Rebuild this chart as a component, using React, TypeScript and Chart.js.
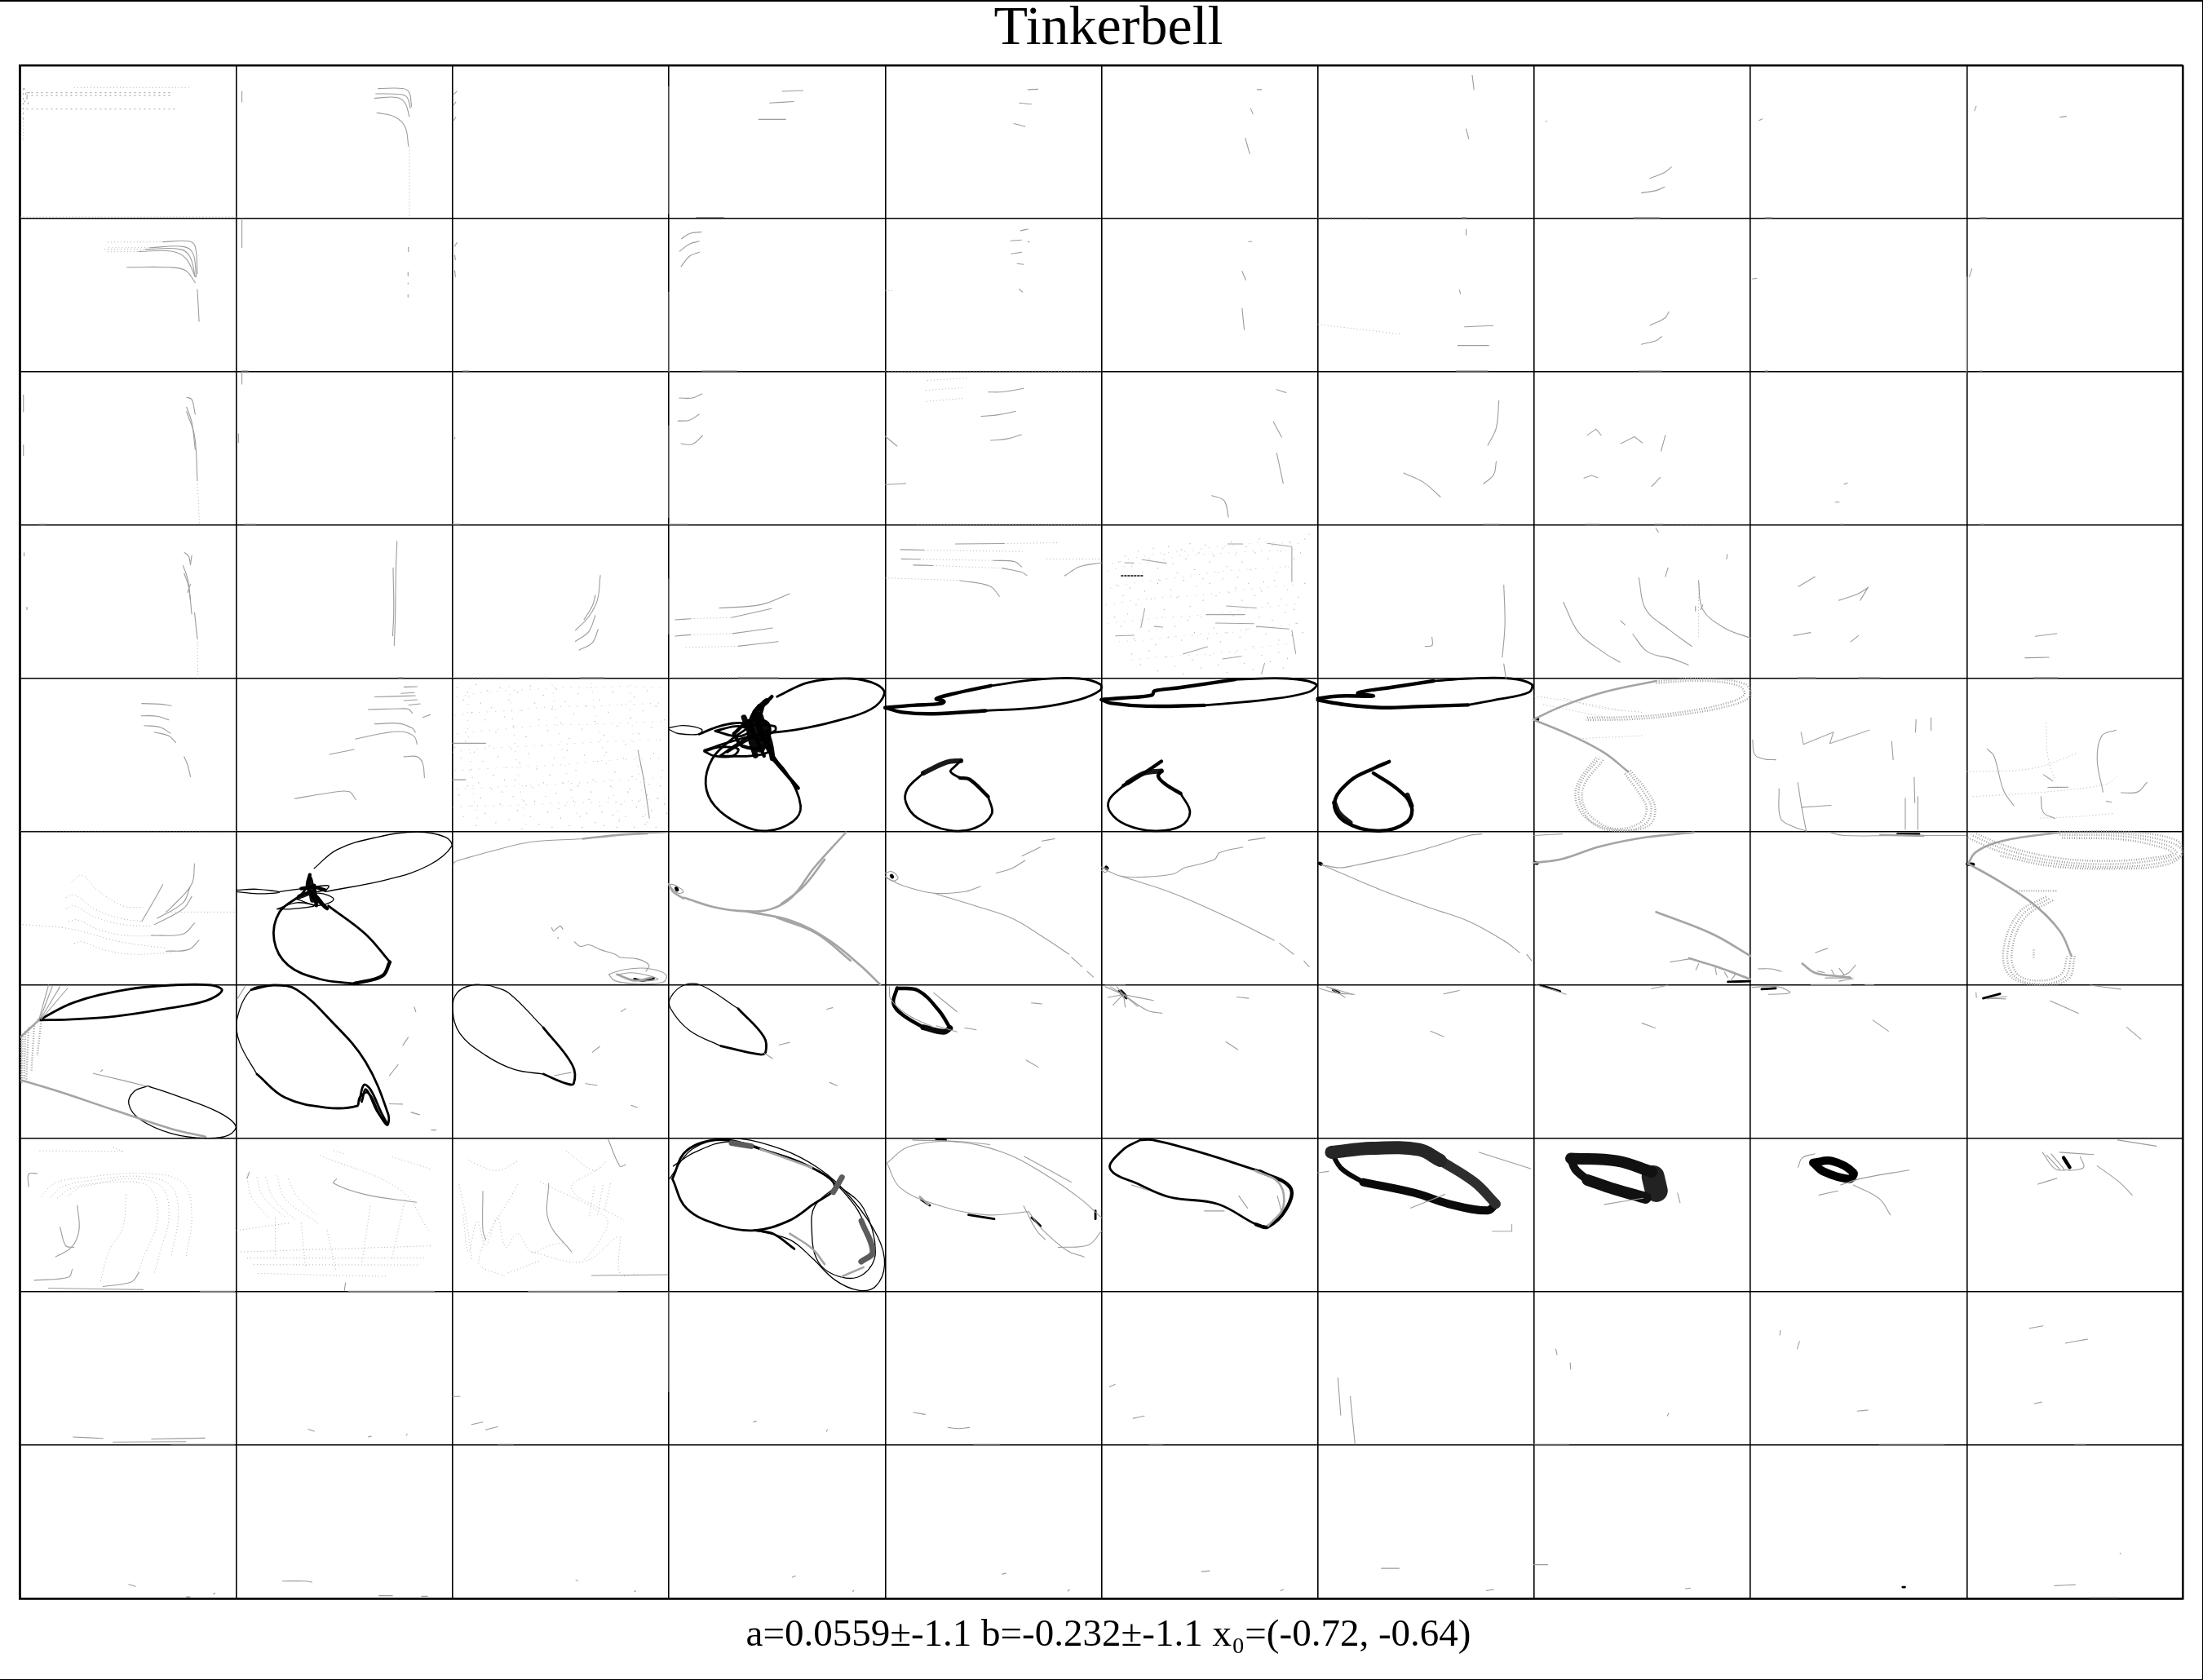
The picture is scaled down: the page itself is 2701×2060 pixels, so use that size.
import React, { useEffect, useRef } from "react";
import { Chart, registerables } from "chart.js";

Chart.register(...registerables);

type Trace = [number, number, number[]];

const titleText = "Tinkerbell";
const captionText = "a=0.0559±-1.1 b=-0.232±-1.1 x₀=(-0.72, -0.64)";
const panelRows = 10;
const panelColumns = 10;

const grayCurves: Trace[] = [
  // row 0
  [0,1,[65.6,15.2,77,15.2,80,18,81,27]],[0,1,[64.5,18.6,76,19,79,21,80.5,28]],[0,1,[64,21.5,74,21,78,24.6,80,33.5]],[0,1,[65,31,73,33.5,78,40,79.6,52.6]],[0,1,[2.6,17,2.6,24]],
  [0,2,[2,17,.5,19]],[0,2,[1.5,24,.5,26]],[0,2,[1.5,34,.5,36]],
  [0,3,[52.4,17,62,16.5]],[0,3,[46.6,24.6,57.7,23.7]],[0,3,[41.5,35.3,54,35.3]],[0,3,[0,14,0,97]],[0,3,[12.7,99.2,25.4,99.2]],
  [0,4,[66,15.9,70.6,15.6]],[0,4,[62,24.6,67.5,25.4]],[0,4,[59.5,38,64.7,40]],
  [0,5,[72,15.9,74,15.9]],[0,5,[69,28.3,70,31.7]],[0,5,[66.5,47.6,68.5,57.7]],
  [0,6,[71.4,6.6,72.2,15.9]],[0,6,[68.6,41.5,69.8,48]],[0,6,[66.7,99.4,68.6,99.4]],
  [0,7,[63.5,66.4,60.3,70,53.6,73.8]],[0,7,[60.3,79.4,56.4,81.7,49.6,83.3]],[0,7,[46,99.4,58,99.4]],[0,7,[5.5,36.5,5.9,36.6]],
  [0,8,[4,36,5.5,35]],[0,8,[6.8,99.4,10,99.4]],
  [0,9,[3.6,29.6,4.4,26.7]],[0,9,[43,33.9,46,33.3]],[0,9,[6,99.4,9,99.4]],
  // row 1
  [1,0,[66,15.2,78,14.8,81,18.3,82,36]],[1,0,[60,19,75.4,18.3,80,22.8,81.5,38]],[1,0,[58,20,74,20,78.6,25,81,38]],[1,0,[55,21.5,70,21.3,76.7,26,81,38]],[1,0,[49.5,31.8,69,31.8,76.7,34,81,41.8]],[1,0,[82,46.3,82.8,67]],
  [1,1,[2.6,0,2.6,19]],[1,1,[79.6,18.8,79.6,21.7]],[1,1,[79.4,35,79.4,37.4]],[1,1,[79.4,42,79.4,42.6]],[1,1,[79.4,49.7,79.4,51.2]],[1,1,[2.4,99.4,5.5,99.4]],
  [1,2,[2,15.7,1,18]],[1,2,[1,24,1.3,27]],[1,2,[1,34,1.3,38]],[1,2,[4.8,99.4,7.5,99.4]],
  [1,3,[15,8.7,9.5,9.8,5.8,13.2]],[1,3,[14,14.8,9.5,16.6,5,21.3]],[1,3,[14,21.9,9.5,24.6,5.6,31.3]],[1,3,[0,48,0,100]],[1,3,[15.3,99.4,31.4,99.4]],
  [1,4,[66,6.9,62.6,7.9]],[1,4,[63,14,58,14.5]],[1,4,[66,15.2,66.6,15.2]],[1,4,[63,22,58.3,23]],[1,4,[61,29.4,64,29.9]],[1,4,[62,46,63.5,48]],
  [1,5,[68,15,69.5,15]],[1,5,[65,34.4,66.7,40]],[1,5,[65,58.5,66,72.5]],
  [1,6,[68.6,6.9,68.6,10.8]],[1,6,[65.5,46.6,65.9,49]],[1,6,[67.9,70.6,81,69.8]],[1,6,[64.7,82.8,79,82.8]],[1,6,[64,99.4,78.6,99.4]],
  [1,7,[62.3,60.9,60.3,65,53.6,69.6]],[1,7,[59,77,56.4,79.6,49.6,82]],[1,7,[48.6,99.4,59,99.4]],
  [1,8,[1,39.4,3,39]],[1,8,[6.8,99.4,8,99.4]],
  [1,9,[2.4,32.8,1.2,38]],[1,9,[0,38,0,100]],[1,9,[6,99.4,7,99.4]],
  // row 2
  [2,0,[77,16.6,79.4,18,81,27.7]],[2,0,[77,23,79.4,32.7,81,50.6]],[2,0,[77,26,80.7,41.6,82,70.7]],[2,0,[1.6,15,1.6,26]],[2,0,[1.6,47.6,1.6,54.6]],[2,0,[9,99.4,12,99.4]],
  [2,1,[2.6,0,2.6,8]],[2,1,[1,40.5,1,46]],[2,1,[4,99.4,9,99.4]],
  [2,2,[1,42.6,1,43.6]],[2,2,[0,99.4,3.4,99.4]],
  [2,3,[4.8,17,10.8,17,15.3,14.3]],[2,3,[4.2,32,9.5,31.5,14,27.7]],[2,3,[5.6,46.8,10.8,47.2,15.6,41.6]],[2,3,[0,35,0,95]],[2,3,[0,99.4,9,99.4]],
  [2,4,[47.6,13.2,54.4,13,64,10.8]],[2,4,[44.4,29,52.4,28,60.3,25.7]],[2,4,[48.8,44.7,56.3,43.7,63,41]],[2,4,[0,42,5.5,48.4]],[2,4,[0,73.5,9.5,72.7]],
  [2,5,[81,11.6,85.3,13.5]],[2,5,[79.4,32.5,83.3,42.6]],[2,5,[81,53,84,72.7]],[2,5,[51,80.7,56.7,84,58.7,94.7]],
  [2,6,[83.7,18.8,82.5,36.5,78.6,47.9]],[2,6,[82.5,58.5,81.3,67,76.6,73]],[2,6,[39.7,66,48.8,72,56.7,81.5]],[2,6,[76.6,99.4,83.7,99.4]],
  [2,7,[60.7,41.3,58.7,51.6]],[2,7,[58.3,68.8,54.4,74.6]],[2,7,[23.8,99.4,30,99.4]],[2,7,[55.6,99.4,59.5,99.4]],
  [2,8,[43.3,73.3,44.8,72.5]],[2,8,[39.3,85,41,85]],[2,8,[41.7,99.4,43,99.4]],
  [2,9,[6,99.4,8,99.4]],
  // row 3
  [3,0,[76,17.7,78,20.4,78.8,25.7]],[3,0,[79.4,19.9,78.8,25.7]],[3,0,[75.4,26.4,77.5,35,78.8,49]],[3,0,[75.9,31.4,78,40.2,79.4,58]],[3,0,[78.8,38.5,77.5,43.8]],[3,0,[80.7,57,82,74]],[3,0,[1.9,18,1.9,20]],[3,0,[3.2,53.5,3.2,55]],
  [3,1,[74.3,10.5,73.8,29.6,73.5,59.7,73,78.4]],[3,1,[72.5,27.8,72.8,56,72.3,72.2]],[3,1,[75,99.4,77,99.4]],
  [3,2,[68.3,32.8,66.9,49,62.9,59.7,56.8,68.6]],[3,2,[66,45.6,64.6,52.7,60.8,61.5]],[3,2,[66,58.9,62.9,69.5,56.8,75.7]],[3,2,[67.3,68,64.6,76.6,58.5,81.4]],[3,2,[59,99.4,70,99.4]],
  [3,3,[23.3,54,42.6,51.8,55.8,44.7]],[3,3,[29,60.2,47.4,54.4]],[3,3,[29.4,70.7,47.9,67]],[3,3,[32,78.9,50.5,75.9]],[3,3,[0,35,0,71]],[3,3,[32,99.4,50.5,99.4]],[3,3,[2.9,61.7,10,61]],[3,3,[2.9,72.3,10,71.5]],
  [3,4,[32.5,12.2,55,12]],[3,4,[7,15.9,18,16.2]],[3,4,[7.5,22,16,22.2]],[3,4,[50,23,60,23.8,63,27.2]],[3,4,[13,26,22,26.3]],[3,4,[54,28,63,30.6,65.5,32.7]],[3,4,[34.5,36,48.4,39.7,52.8,46.3]],[3,4,[100,24.5,90,27,83,33]],
  [3,6,[86,39,86.5,64.8,85.3,86]],[3,6,[86,90.5,87,100]],[3,6,[52.8,73,52.8,78.4,49.6,79]],
  [3,7,[56.3,2,57.5,4.5]],[3,7,[13.5,50.3,20.6,70,32.5,83.3,39.7,89.4]],[3,7,[48.4,34.4,51.6,54.8,62.3,68,72.9,79]],[3,7,[45.6,71,52.4,82.5,64.3,87.3,71.4,91.3]],[3,7,[76,36,78,55,88,67,100,73.6]],[3,7,[40,62.3,42,65]],[3,7,[60.7,33.6,61.9,27.8]],[3,7,[74.6,56,74.6,53]],[3,7,[77,55,78,52]],[3,7,[89,22,89.3,19]],
  [3,8,[22.2,40,29.8,33.6]],[3,8,[40.9,49,49.6,44.8,54.4,40.7]],[3,8,[54.4,40.5,50.8,49]],[3,8,[20,72,27.8,70]],[3,8,[46.4,76,50,72]],[3,8,[22,99.4,30,99.4]],[3,8,[50,99.4,60,99.4]],
  [3,9,[31.7,72.5,41.7,70.6]],[3,9,[27,86.5,38,86.2]],[3,9,[31,99.4,42,99.4]],
  // row 4
  [4,0,[56.3,16.3,64.8,16.7,70,17.7]],[4,0,[56,24.3,63.5,24.6,68.8,27]],[4,0,[57.4,30.7,64.8,31.8,69.5,35.6]],[4,0,[62.2,35,68.8,37.4,72,41.7]],[4,0,[75.9,51,77.5,56.4,78.8,64]],
  [4,1,[77.5,5.5,83.6,5.3]],[4,1,[76.2,9.7,82.3,9.2]],[4,1,[64,12,75.4,11.5,82.8,11.2]],[4,1,[77.5,14.4,83.6,13.8]],[4,1,[79.7,17.3,85,16.5]],[4,1,[61,20.2,75.4,19.7,79.6,20,81.5,22.7]],[4,1,[86.2,25.4,89.7,23.6]],[4,1,[64,29.6,75.4,29.3,81.5,32.5,82.8,35]],[4,1,[55,39.5,68.3,35.6,77,34.7,82.3,37.8,83.6,42.8]],[4,1,[43.1,49.5,54.5,46.3]],[4,1,[77.5,51,83.6,51,86.2,55.4,87,64.6]],[4,1,[27,78.3,41.3,75,51.9,73.7,55.3,78.9]],
  [4,2,[85.7,46.8,88.4,66.3,91,91]],[4,2,[0,42.2,15.3,42.2]],[4,2,[0,66,6,66]],
  [4,8,[1,40,2,49.6,6.3,52.5,11.7,53]],[4,8,[65.3,41,66,53]],[4,8,[76.3,35,76.6,26.7]],[4,8,[83.5,25.7,83.5,33.8]],[4,8,[13.2,71.9,13.9,91,19.3,96.3,25.8,99.4]],[4,8,[21.9,67.8,23.6,83,25.8,99.4]],[4,8,[23.6,84,37.3,82.7]],[4,8,[75.7,64.4,76,81]],[4,8,[71.6,78,71.6,98.4]],[4,8,[77.4,77,77.4,98.4]],
  [4,9,[9.5,46,12.6,50.5,17,72.9,21.8,83]],[4,9,[69,33.6,62.5,37.3,60.3,52.5,63,74]],[4,9,[34.3,77,35.4,87.2,40.8,91.2]],[4,9,[71.3,74.5,79,74,83.3,67.8]],[4,9,[64.6,80,67,80.6]],[4,9,[35.5,62.7,39.8,66.8]],[4,9,[37.5,71,47,70.9]],
  // row 5
  [5,0,[80.7,20.8,79.4,34,70,49.3,67.5,52.3]],[5,0,[78.6,36,75.4,46.2,63.5,56.4]],[5,0,[79.4,42.2,75.4,50.3,62.2,60.5]],[5,0,[80.7,59.5,75.4,66.6,60.8,67.6]],[5,0,[82.8,70.7,78,76.8,67.5,77.8]],[5,0,[66,34.4,62.2,44.2,56.3,58.4]],
  [5,2,[.3,22.8,.8,19.8,7.5,16.7,18,12.6,36.5,6.5,60.3,4.5,78.7,1.8,99.5,.4]],[5,2,[45.8,62.5,46.6,64.6,49.7,61.5,51,63.5]],[5,2,[48.7,68.6,48.7,69.6]],[5,2,[56.3,71.7,59,74.7,63,73.7,68.3,76.8,75,79.8,77.5,81.9,85.5,82.9,90.8,87,89.4,91]],[5,2,[72.2,93,78.8,90,89.4,89,98.6,93,97.4,98,84,99,74.9,97,72.2,93]],[5,2,[76,93,84,92,95,96,86,97,76,93]],
  [5,3,[0,34,3.1,35,6.7,39,4.3,40,.7,35.8,0,34]],
  [5,4,[0,26.9,3.1,25.9,6,30,3.6,32,0,29]],[5,4,[.7,30,8,35,22.5,40,36.9,39,44,35.6]],[5,4,[51.3,26.9,58.6,23.8,64.6,18.7]],[5,4,[63.3,15.7,71.7,10]],[5,4,[72.4,6,78.4,4.5]],[5,4,[22.5,40,41.7,48.3,58.6,56.4,73,68.6,85,79.8]],[5,4,[86.2,81.9,91,88]],[5,4,[93.4,91,96.3,94.7]],
  [5,5,[0,23,2.9,24.4,1.7,26.4,0,25]],[5,5,[.5,23.8,8.9,28.9,18.5,29.5,33,27.5,37.8,23.8]],[5,5,[38,23.5,52.2,18.1,54.6,13.6,65.4,10]],[5,5,[67.9,5.5,75.6,3.9]],[5,5,[8.9,28.9,33,40,59.4,56.4,79.9,70.7]],[5,5,[82.3,72.7,88.8,79.8]],[5,5,[93.6,84.3,96,88]],
  [5,6,[1.7,21.4,10,23.4,17.3,21.8,34.2,16.7,46.2,12.6,55.8,8.6,69.8,2.4,75.9,1.4]],[5,6,[1.7,21.4,29.4,38,53.4,50.3,69.8,58.4,86.8,71.7,93.3,78.8]],[5,6,[96.6,80,98.8,84]],
  [5,7,[0,2.4,13,1.4]],[5,7,[63,84.9,71.6,82.9]],[5,7,[76.1,86,74.8,90]],[5,7,[83.6,87.5,84.3,93]],[5,7,[88,91.5,89.5,95]],[5,7,[93,93,91,97]],
  [5,8,[36.7,.4,43.2,2.4,64.9,2.4,99.6,2.4]],[5,8,[30,78.8,35.6,76]],[5,8,[3.5,89.4,9.5,89.4,14.3,91]],[5,8,[24,86,30,92,41,94,46.6,95]],[5,8,[31,90.8,34.2,91.8]],[5,8,[37.5,90,38.6,93]],[5,8,[41,89,43.2,93]],[5,8,[48.6,86.9,45.3,92,41,94.3]],[5,8,[34.6,95.3,46.6,95.3]],[5,8,[41,97.4,47.5,95.7]],[5,8,[28,99.6,46.4,99.6]],[5,8,[53,99.6,57,99.6]],
  // row 6
  [6,0,[15,.6,9.3,21.8]],[6,0,[18.5,1,9.8,21.4]],[6,0,[22,2,9.8,22.2]],[6,0,[13.2,0,8.7,22.8]],[6,0,[33.9,57.6,38.4,59,59.5,66.2]],[6,0,[38.2,55.2,37.4,56.2]],
  [6,1,[82.3,14.3,83,17.3]],[6,1,[79.5,34,77,39.3]],[6,1,[74.8,51.9,70.8,59]],[6,1,[70.8,77.4,76.9,77.6]],[6,1,[80.8,82.9,84.7,84.5]],[6,1,[90.2,94.5,92.3,94.5]],[6,1,[4,1,.4,9]],
  [6,2,[80,15.3,77.9,17.3]],[6,2,[68,40,64.6,43.8]],[6,2,[61.5,64.2,66.8,65.4]],[6,2,[82.6,78.4,85.4,79.8]],[6,2,[47,59,54.7,57]],
  [6,3,[75.7,14.7,73,15.7]],[6,3,[55.8,37.3,51,39]],[6,3,[43.9,44.2,47.9,47.9]],[6,3,[74.3,63.5,77.8,65.6]],
  [6,4,[1.9,1,2.6,9.2,10.3,19.3,22.4,27.5]],[6,4,[22.4,5,33.2,17.3]],[6,4,[36.8,27.9,42.1,29.1]],[6,4,[23.6,26.5,33.2,30.5]],[6,4,[67.6,11.6,72.4,12.2]],[6,4,[65.2,48.9,70.7,53.4]],
  [6,5,[10.1,6.1,1.7,1]],[6,5,[10.1,6.1,4,1]],[6,5,[10.1,6.1,7,1]],[6,5,[10.1,6.1,3,8]],[6,5,[10.1,6.1,5.3,13]],[6,5,[10.1,6.1,11,14.3]],[6,5,[10.1,6.1,16.8,14]],[6,5,[10.1,6.1,24,10]],[6,5,[10.1,6.1,21,16.3,28,18.3]],[6,5,[62.6,7.7,68,8.6]],[6,5,[57.5,37,63,42]],[6,5,[1.7,0,11,0]],
  [6,6,[.5,2,8.4,5,17,6]],[6,6,[4,1,16,6]],[6,6,[12.6,8,6,2]],[6,6,[58.2,5.7,65.4,3.5]],[6,6,[52.2,30,58.2,33.6]],
  [6,7,[1,0,8.7,3,14.8,6]],[6,7,[54.2,2.4,61.8,0]],[6,7,[49.9,24.8,56,27.9]],
  [6,8,[.8,1.4,12.7,1,18.2,5,8.4,6]],[6,8,[56.6,22.8,63.8,30]],
  [6,9,[4.5,8,4.3,5]],[6,9,[9.4,9,18.5,7.3]],[6,9,[10.5,8.6,18,9]],[6,9,[38.6,10.2,51.6,18.3]],[6,9,[74,27.5,80.5,35.2]],[6,9,[57,0,71.2,2.6]],
  // row 7
  [7,0,[26.5,43.6,27.3,59.8,23.8,71,16.4,77.2]],[7,0,[18.5,57.8,21.2,70,25,71]],[7,0,[4,31.4,4,23.2,7.9,22.8]],[7,0,[6.6,92.5,22.5,90.4,24.2,85.3]],[7,0,[38.4,96.5,51.6,93.5,55,87.4]],[7,0,[13.2,97.6,56.9,98.6]],[7,0,[83.3,99.6,99.2,99.6]],
  [7,1,[46.3,26.3,45,29.3,59.5,36.5,83.3,41.6]],[7,1,[51.9,99.6,91.5,99.6]],[7,1,[6,22,5,26]],[7,1,[50.5,94,50,99]],
  [7,2,[72,.8,77.4,18.1,80,17]],[7,2,[64.3,89.4,99.5,88.8]],[7,2,[35,99.6,76.2,99.6]],[7,2,[14,34.4,14,59.8,15.3,66]],[7,2,[44.4,29.3,44.4,53.8,55,74]],
  [7,4,[12.7,1,34.4,2,48.4,4]],[7,4,[64.3,11.7,86,28.5]],[7,4,[.8,16,10.7,5.5,30.6,2,54.4,9,74,23.5,90,39,100,51.6]],[7,4,[.8,16,6.8,32,22.6,42.7,46.4,49.8,66.3,47.7]],[7,4,[66.3,47.7,72.2,58.7,84,73,92,77.3]],[7,4,[100,60.5,94,69.4,80,71]],[7,4,[64,44,70,60,74,66]],
  [7,5,[63.5,37.4,67.5,45.4]],[7,5,[47.6,47.3,56.7,47.3]],[7,5,[13.9,30.3,21.8,33.9]],[7,5,[81.3,37.4,83.3,48]],
  [7,6,[74.6,9,98.4,19.7]],[7,6,[42.9,45.4,58.7,36.5]],[7,6,[0,22.3,5,21.5]],
  [7,7,[32.5,43,50.4,39]],[7,7,[66.3,35.6,67.5,42]],
  [7,8,[22,18.8,24,12.6,29.8,10]],[7,8,[41.7,30.3,51.6,26,73.4,20.6]],[7,8,[47.6,30.3,59.5,39.2,64.7,49.8]],[7,8,[31.7,36.9,40.5,34.2]],
  [7,9,[35,9,41,20,47,20.5]],[7,9,[37,11,43,20]],[7,9,[39,10,45,20]],[7,9,[52.5,12,54,19,47,21]],[7,9,[42.9,9,58.7,10.5]],[7,9,[60.3,17.9,70.6,28.5,76.5,36.9]],[7,9,[32.9,29.8,41.7,25.9]],[7,9,[69.8,1,87.7,5]],
  // row 8
  [8,0,[24.6,94.7,38.4,95.6]],[8,0,[60.8,96,85.5,95.4]],[8,0,[43,98,76.7,97.7]],[8,0,[70,99.5,99,99.5]],
  [8,1,[33.3,89.6,36,91]],[8,1,[61,94.7,62.4,94.2]],[8,1,[78.6,93.5,79,92.9]],
  [8,2,[8.8,86.6,14,85]],[8,2,[15.3,90,20.9,88]],[8,2,[0,68.2,3.4,68.2]],[8,2,[21,99.5,28,99.5]],
  [8,3,[39,85,40.5,84.3]],[8,3,[72.8,91,73.3,90]],[8,3,[0,0,0,65]],
  [8,4,[13,78.6,18.5,80]],[8,4,[29.1,88.5,33.9,89.2,38.9,88.5]],[8,4,[41,99.5,52.9,99.5]],
  [8,5,[3.7,62,6.3,60.4]],[8,5,[14.6,82.5,19.8,81]],[8,5,[22.2,99.5,28.3,99.5]],
  [8,6,[9.3,56.2,10.6,80.4]],[8,6,[15,68.2,17.2,99.5]],
  [8,7,[10,37.3,10.6,41]],[8,7,[16.7,46.3,16.9,50.5]],[8,7,[62.2,79.3,61.6,80.9]],[8,7,[0,99.5,16,99.5]],
  [8,8,[13.9,25.2,13.6,28.2]],[8,8,[22.7,32.4,21.6,37.2]],[8,8,[49.4,77.8,54.4,77.1]],[8,8,[59.8,99.5,89.5,99.5]],
  [8,9,[29,23.8,35.3,22.2]],[8,9,[45.6,33.5,55.8,30.9]],[8,9,[31.3,73,34.8,71.8]],[8,9,[50,99.5,54.8,99.5]],
  // row 9
  [9,0,[50.3,90.8,53.4,92.2]],[9,0,[89.4,97.2,90.2,96.5]],[9,0,[77,99,78.6,99]],
  [9,1,[21.4,88.7,32,88.7,35,89.4]],[9,1,[65.9,98.2,72.2,98.2]],[9,1,[85.7,98.6,88.4,98.6]],
  [9,2,[57,88.2,58,88.2]],[9,2,[84,95.6,84.7,95]],
  [9,3,[57,86.2,58.5,85.3]],[9,3,[85,95.6,85.5,94.7]],
  [9,4,[54,84.2,55.8,83.5]],[9,4,[84.4,95.2,85.2,94.2]],
  [9,5,[46.3,82.5,50,82]],[9,5,[82.8,95,84.1,94.2]],
  [9,6,[29.4,80.4,37.6,80.4]],[9,6,[78,94.9,81.2,94.2]],
  [9,7,[0,78,6.3,78]],[9,7,[70,93.7,72.2,93.3]],
  [9,9,[40.6,91.7,50.2,91]],[9,9,[56.8,99.5,70,99.5]],[9,9,[70.9,70.5,71.2,70.8]],
];

const angularTraces: Trace[] = [
  [2,7,[24.6,41.3,28.6,37.3,31,41.3]],[2,7,[40,46.8,46.4,42.3,50,46.3]],[2,7,[23,69.3,26.6,67.5,29.4,69]],
  [4,8,[23.4,35,24.5,43,38.4,35,36.7,42.4,55,33.6]],
  [3,5,[10.7,24.5,15,24.6]],[3,5,[18.8,22.5,30,24.8]],[3,5,[88,14.5,88,36.7]],[3,5,[76.6,11.8,88,14]],[3,5,[58.4,12.2,65.3,12.2]],[3,5,[57.8,52.7,71.6,54]],[3,5,[48.4,58.3,66.3,58.3]],[3,5,[52.8,63.8,70.4,64.2]],[3,5,[71.6,66,86.7,67.7]],[3,5,[88,68.6,89.8,83.7]],[3,5,[37.7,84,49,79.3]],[3,5,[56,87.2,64.7,85.5]],[3,5,[75.4,90,74,97]],[3,5,[20,54.4,18.2,66.8]],[3,5,[6.5,72.2,15,71.8]],[3,5,[24.4,66,28.3,66.5]],
  [7,6,[80.6,60.5,89.7,60.5,89.7,56]],
];

const blackDash: Trace[] = [[3,5,[9,33,19.5,33]]];

const denseDashes: Trace[] = [
  [0,0,[3,17.9,71,17.9]],[0,0,[3,19.7,70,19.7]],[0,0,[3,28.6,72,28.6]],[0,0,[2,15,4,26]],[0,0,[2,24,5,16]],[0,0,[1.5,15,1.5,35]],
];

const dottedTraces: Trace[] = [
  [0,0,[25,14.5,79,14.5]],[0,0,[1.5,35,1.5,50]],[0,0,[0,99,100,99]],
  [0,1,[80,53,80,99.5]],[0,6,[0,99.4,23,99.4]],
  [1,0,[40.5,15.4,66,15.2]],[1,0,[41,19,60,19]],[1,0,[39,20,58,20]],[1,0,[40.5,21.7,55,21.5]],
  [1,4,[0,47,4,47]],[1,4,[0,99.5,100,99.5]],[1,6,[0,69,38.5,75.4]],
  [2,0,[82,70.7,83,99.8]],[2,4,[19.4,5.6,37.7,4]],[2,4,[18.7,12,36.5,10.3]],[2,4,[19,19.3,36.5,17.2]],[2,4,[15,99.5,100,99.5]],[2,7,[66,99.4,100,99.4]],
  [3,0,[82,74,82.3,99.6]],[3,2,[0,99.4,45,99.4]],[3,3,[0,99.4,32,99.4]],[3,3,[10,61,29,60.2]],[3,3,[10,71.5,29.4,70.7]],[3,3,[7.7,79.8,32,78.9]],
  [3,4,[55,12,80,11.4]],[3,4,[18,16.2,63.5,17.2]],[3,4,[16,22.2,50,23]],[3,4,[22,26.3,54,28]],[3,4,[0,34.4,34.5,36]],[3,4,[74.6,22,100,22]],
  [3,7,[76,36,76,73]],[4,0,[0,99.4,100,99.4]],
  [4,7,[19.5,39.3,50,37.3]],[4,7,[0,11.4,21.7,15.9,41,21]],[4,7,[4.3,17,39,27]],[4,7,[14,13,30,19,50,22]],
  [4,9,[36.7,29,37.5,50.5,40.8,66.8]],[4,9,[0,60.7,30,58.7,51.6,48.5]],[4,9,[2.8,77,36.4,74,64.6,68.8,70,62.7]],[4,9,[34,91,51.6,90,68,88]],
  [5,0,[23.8,33,28.6,28.3,35.7,38,47.6,48.3,56.9,49.3]],[5,0,[21.2,43,25.1,41,34.4,50.3,46.3,56.4,56.9,58.4]],[5,0,[21.2,50.3,25.1,48.3,34.4,55.4,47.6,60.5,60.8,61.5]],[5,0,[22.5,58.5,26.5,57.4,35.7,63.5,48.9,67.6,66,67.6]],[5,0,[25.1,72.7,29,71.7,38.4,76.8,51.6,79.8,70,78.8]],[5,0,[1.3,60.5,19.8,62.5,30.4,65.6,46.3,71.7,67.5,75.8]],[5,0,[70,52.3,99,52.3]],[5,0,[25,.5,100,.5]],
  [7,0,[9,8,48,8.5]],[7,0,[43,6,48,8.5]],[7,0,[9.8,37.9,15.9,29.3,30.4,25.3,59.5,22.8,75.4,29.3,79.4,49.7,76.7,78.2]],[7,0,[14,38.5,19.8,31.4,33,27.3,56.9,24.8,70,31.4,73.2,49.7,70,76.2]],[7,0,[17.2,39,23.8,32.4,35.7,29,54.2,26.3,66,32.4,68.8,51.7,64.8,74,62,88.4]],[7,0,[22,37.5,29,31.4,51.6,28.3,60.8,33.4,63.5,53.8,56.9,78.2,54.2,88.4]],[7,0,[49,36.5,47.6,57.8,41,74,37,94.5]],
  [7,1,[4.8,23.2,6.9,37.5,14.8,51.7]],[7,1,[9.5,25.3,12.2,37.5,22.8,51.7]],[7,1,[13.5,25.3,17.5,39.7,28,53.8]],[7,1,[18.8,24.2,22.8,39.7,38.6,56]],[7,1,[24,26.3,28,37.5,37,49.7]],[7,1,[38.6,11,75.7,33.4,88.9,59.9]],[7,1,[72,12,90,20]],[7,1,[2,74,90,70]],[7,1,[5,78,88,78]],[7,1,[8,82.3,85,82.5]],[7,1,[10,88,70,90]],[7,1,[18,52,18,76]],[7,1,[30,55,32,84]],[7,1,[42,60,46,86]],[7,1,[62,44,58,82]],[7,1,[78,40,72,78]],[7,1,[0,60,25,55]],[7,1,[45,8,50,10]],
  [7,2,[52.4,8,65.6,21,70.9,15]],[7,2,[7.4,14,11.4,17,20.6,21,29.9,15]],[7,2,[4.8,49.7,7.4,74,11.4,53.8,15.3,70,20.6,51.7,24.6,71,29.9,61.9,36.5,74,44.4,70,51,68]],[7,2,[40.5,28.3,70.9,51.7,68.3,66,60.3,80.3]],[7,2,[65.6,31.4,63,51.7]],[7,2,[69.5,30.4,67,50]],[7,2,[73,29.4,70,48]],[7,2,[68,19,55,33,79,53]],[7,2,[77.5,64,77.5,88.4,85.4,88.4]],[7,2,[36.5,74,60.3,80.3,76,64]],[7,2,[30,30,12,80,24,90]],[7,2,[3,30,6,50,9,80]],[7,2,[40,80,25,88]],
];

const speckleTraces: Trace[] = [
  [3,5,[5,25,16,21,28,18,40,17,52,14,63,13,74,11,92,12]],[3,5,[3,30,13,26,24,24,36,20,48,19,59,18,70,17,90,16]],[3,5,[4,41,17,37,30,35,42,33,55,30,66,29,76,28,90,27]],[3,5,[2,52,15,49,28,47,42,46,56,44,65,42,74,41,89,39]],[3,5,[3,64,17,62,30,60,44,59,58,57,69,54,80,53,92,51]],[3,5,[8,76,20,75,32,73,46,71,60,70,70,67,80,66,92,64]],[3,5,[14,88,26,86,38,85,50,84,62,82,72,80,82,78,92,76]],
  [4,2,[2,12,13,9,24,8,37,7,50,6,64,6,78,5,97,6]],[4,2,[1,24,13,22,26,21,40,19,54,18,67,18,80,17,96,16]],[4,2,[2,36,13,34,24,33,37,31,50,30,64,30,78,29,97,28]],[4,2,[0,48,11,46,22,45,35,44,48,43,61,42,74,41,96,40]],[4,2,[1,60,13,59,26,58,40,57,54,56,65,54,76,53,97,52]],[4,2,[2,72,17,71,32,70,46,69,60,68,72,67,84,66,99,64]],[4,2,[0,84,12,83,24,83,38,82,52,81,66,81,80,80,99,78]],[4,2,[8,6,7,20,7,34,8,48,9,62,10,80,12,96]],[4,2,[26,5,27,17,28,30,29,45,30,60,32,78,34,96]],[4,2,[46,4,47,15,48,26,50,42,52,58,55,75,58,92]],[4,2,[64,3,65,12,66,22,68,36,70,50,74,73,78,96]],[4,2,[82,4,82,17,83,30,84,45,86,60,88,78,90,96]],
];

// Single specks of the two noisy panels, read by eye.
const speckPanelA: number[] = [
  8,24,11,20,14,27,17,17,19,31,22,22,24,15,26,28,27,36,29,19,31,14,33,25,35,31,37,16,39,22,41,12,43,29,45,18,47,35,48,13,50,24,52,20,54,31,56,15,58,27,60,11,62,19,63,34,65,24,67,14,69,29,71,18,73,9,75,37,77,22,79,13,81,31,83,17,85,27,87,11,89,22,92,18,94,9,96,6,
  7,39,10,46,13,41,16,52,20,43,23,48,26,38,29,55,32,42,35,47,38,36,41,53,44,40,47,49,50,38,53,46,56,35,59,44,62,41,65,49,68,38,71,46,74,43,77,51,80,36,83,48,86,42,89,55,91,47,94,38,
  6,60,9,66,12,58,15,74,19,62,22,69,25,78,28,60,31,73,34,66,37,75,40,62,43,70,46,60,49,74,52,67,55,76,58,70,61,59,64,73,67,68,70,79,73,60,76,71,79,62,82,75,85,57,88,72,90,64,93,70,
  14,84,18,91,22,82,26,95,30,86,34,92,38,97,42,88,46,93,50,85,54,91,58,96,62,83,66,90,70,94,74,85,78,89,82,83,84,93,86,87,
];
const speckPanelB: number[] = [
  2,6,5,14,7,9,9,22,11,4,13,16,15,27,16,8,18,19,20,35,22,6,24,25,26,14,28,31,30,9,32,21,34,38,36,5,38,16,40,27,42,11,44,34,46,20,48,7,50,29,52,15,54,39,56,23,58,10,60,33,62,18,64,6,66,28,68,14,70,37,72,22,74,9,76,31,78,17,80,43,82,26,84,12,86,36,88,21,90,8,92,32,94,18,96,40,98,27,
  1,45,4,52,6,41,8,60,10,48,12,68,14,54,17,44,19,63,21,51,23,74,25,58,27,46,29,66,31,55,33,80,35,49,37,71,39,59,41,44,43,77,45,63,47,52,49,85,51,68,53,47,55,73,57,60,59,90,61,50,63,79,65,66,67,54,69,87,71,48,73,70,75,61,77,93,79,52,81,74,83,64,85,84,87,57,89,95,91,69,93,49,95,78,97,60,99,88,
  3,76,5,90,7,70,9,83,11,96,13,78,15,88,18,72,20,94,22,82,24,66,26,92,28,77,30,86,32,98,34,70,36,90,38,80,40,95,42,68,44,87,46,97,48,75,50,91,52,83,54,96,56,80,58,70,60,97,62,88,64,74,66,94,68,83,70,96,72,78,74,89,76,97,78,82,80,90,82,72,84,97,86,80,88,90,90,76,92,86,94,97,96,70,98,82,
];

const blackThin: Trace[] = [
  [4,3,[0,32.2,6.7,30.7,15.2,33.2,14,36.3,4.3,35.9,0,33.2]],
  [5,1,[36,23.8,46.6,11.6,65,3.5,83.7,0,96.8,3.5,99.5,9.5,89,21.8,70.5,30.9,41.3,39]],
  [5,1,[0,38,9.5,37.4,20,39.4,9.5,40.4,0,39]],
  [5,1,[20,39,30.6,37,42.6,35,41.3,38,30.6,40]],
  [5,1,[18.8,50.3,28,46.2,36,48.3,25.4,50.3,18.8,50.3]],
  [5,1,[28,44,38,40,45,44,38,48,28,44]],
  [6,2,[16.7,0,25.9,5,41.9,27.6]],[6,2,[42,58,28.6,55,15.3,45.8,3.4,31.6,0,15.3,2.1,5,8.7,0,16.7,0]],
  [6,3,[24,39.7,9.5,29.5,.8,15.3,.8,8,6.9,0,14.8,0,32,15.3]],
  [6,0,[59,65.8,72.7,72.3,91.3,82.5,99.7,91.6,96.5,97.8,86,99.8,70,96.7,55.6,87.6,50.3,77.4,52.9,69.2,59,65.8]],
  [6,1,[17.5,0,6.9,3,.3,22.4,1.6,37.7,9.5,58]],
  [7,3,[.3,26.3,10.8,6.9,26.6,0,47.6,4.9,68.8,19,84.6,39.5,96.5,64,99.7,82.3,95.5,96.5,87.6,99,77,92.5,66.4,78.2,55.9,66,39.7,59.9]],
  [7,3,[78.3,30.3,67.7,43.6,66,58,69,80.3,79.6,90.4,90,88.4,95.5,74,90,45.6,78.3,30.3]],
  [7,3,[2,18,12,9,28,2,46,8,70,22,86,44,94,68]],
];

const blackMedium: Trace[] = [
  [4,3,[46.4,35.6,59.7,33.2,76.5,28,93.4,20,99.6,9.8,95.8,3.7,83.7,0,64.5,2.6,50,11.8]],
  [4,3,[46.4,48.5,54.9,62.7,60.9,83,57.3,93.3,45.2,99.4,33.2,95.3,21.2,83,17,68.8,20,52.5,28.4,40.3,36.8,32]],
  [4,3,[16.4,47.5,23.5,44.8,32,46,29.6,50.5,21,50.5,16.4,47.5]],[4,3,[14,36.3,23.6,31,34.4,29,39,33]],[4,3,[23.6,50.5,32,42.3,38,38.3,45.2,42.3,46.4,47.5,38,50.5,23.6,50.5]],[4,3,[34.4,30,48.8,31,49,34.2,41.6,37.3,34.4,30]],[4,3,[16.4,46.8,28.4,41.3,46.4,34]],[4,3,[21.4,34.2,32,31,37.3,34.2,32,37.8,21.4,34.2]],[4,3,[27,48,34,42,40,38]],
  [4,4,[48.8,4.7,70.5,.6,89.7,0,99.4,3.7,99.4,7.7,89.7,13.8,70.5,19,46.4,21]],[4,4,[17.6,61.7,10.3,71.9,9.6,81,15,91,29.6,99,41.6,97.4,49.3,88.2,47.6,77]],[4,4,[34.5,64.8,30.2,60.7,32,57.6,35,53.6]],
  [4,5,[61.8,.6,85.9,0,99.2,3.7,95.6,8.9,76.4,13.8,47.6,17.5]],[4,5,[10.1,69.9,3.6,79,4.1,87.2,11.3,95.3,24.5,99.4,36.6,96.3,40.9,87.2,36.6,75]],
  [4,6,[53.4,1.6,69.8,0,89,0,98.8,3.7,97.7,8.9,82.5,13.8,69.5,17.2]],
  [5,1,[54.5,99,38.6,96,24,87,17.5,70.7,20,52.3,30.6,40,34.6,30]],[5,1,[42.6,48.3,59.7,66.6,71,84.9]],
  [5,2,[84,96,88,97,93,95.5]],
  [5,7,[89.6,97.8,99.8,97.4]],[5,8,[68,1.4,78,1.4]],
  [6,0,[8.7,22.8,25,11.2,48.9,3,70,0,88.6,0,93.4,3.5,86,10.2,67.5,15.3,43.6,20.4,22.5,22.4,8.7,22.8]],
  [6,1,[6.9,3,17.5,0,28,3,43.9,23.4,59.7,49.9,70.3,84.5,69.7,91.2,66.3,84.5,61,70.3,57,73.3,55.8,78.8,41.3,79.8,22.5,73.3,9.5,58]],
  [6,1,[57,75,59,65,62,68,67,83,70,91]],[6,1,[58,76,60,68,65,82,69,90]],
  [6,2,[41.9,27.6,55.3,51.9,56,64.2,52.6,64.2,42,58]],
  [6,3,[32,15.3,43.9,33.6,44.7,43.8,42,45.2,24,39.7]],
  [6,7,[3,0,12,4]],[6,8,[5.2,2.6,11.7,2]],[6,9,[7.6,8.6,15.4,5.7]],
  [6,5,[8,4,11.5,8.5]],[6,6,[7,3,10,5]],
  [7,3,[1.6,26.3,8.2,7.9,24,.8,42.3,6.9,66,19,76.7,31.4,66,43.6,55.3,53.8,39.7,59.9,24,56.8,8.2,45.6,1.6,26.3]],
  [7,3,[39.7,59.9,48,62,58,72]],
  [7,4,[16.7,40,20.6,43.6]],[7,4,[38.5,49.8,50.4,52.5]],[7,4,[67.7,51.6,71.8,57]],[7,4,[97.2,47.2,97.2,52.5]],[7,4,[23.4,.2,28,1]],
  [7,5,[17.9,1,23.8,1,45.6,9,73.4,21.5]],[7,5,[76.6,57.8,71.4,56,53.6,42.7,31.7,38.3,17.9,30.3,4,19.7,9.9,7.4,17.9,1]],
  [9,8,[70.4,92.6,71.4,92.6]],
];

const blackHeavy: Trace[] = [
  [4,3,[41.6,17.9,38,28,44,50.5]],[4,3,[47.6,11.8,40.4,24,45.2,44.4,50,54.6]],[4,3,[44,15,42,30,47,46]],[4,3,[47.9,52,59.8,71.5]],[4,3,[30,36,38,27,46,30,44,44,34,44,30,36]],
  [4,4,[0,19,12.8,17.5,26,16.3,27.2,14.9,23.6,13.2,32,9.8,48.8,4.7]],[4,4,[46.4,21,22.4,23,8,22,0,19]],[4,4,[47.6,77,39,65.8,34.5,64.8]],
  [4,5,[0,13.8,8.9,12.8,23.3,10.8,24.5,8.1,35.3,6.1,61.8,.6]],[4,5,[47.6,17.5,21,18,4,16,0,13.8]],[4,5,[36.6,75,29.4,68.8,26.2,63.7,27.7,60.3]],[4,5,[27.7,54,19.7,61.7,10.1,69.9]],
  [4,6,[0,13,10,11.4,25.7,11.4,18.5,9.4,34.2,5.7,53.4,1.6]],[4,6,[69.5,17.2,46,18.3,29.4,19,12.5,17,0,14]],[4,6,[33,54.2,25.7,58.7,14.9,66.8,7.7,81,12.5,93.3,28.2,99.4,41.4,93.3,43.3,83,36.6,71.9,25.7,61.7]],
  [5,1,[71,84.9,67.5,94,54.5,99]],[5,1,[36,35,37,48]],[5,1,[34,40,42,50]],[5,1,[34,28,33,36,37,46]],[5,1,[30,37,36,36,41,38]],[5,1,[29,42,35,40,41,49]],
  [5,3,[3.4,36.8,3.8,37.8]],[5,4,[2.9,28.6,3.3,29.4]],[5,5,[2.2,23.2,2.6,23.8]],[5,6,[.9,20.6,1.5,21]],[5,7,[.3,20.2,1.3,20.4]],[5,9,[.4,21,3,21.2]],[4,7,[.3,26.6,1.6,26.6]],
  [6,4,[5.5,2,15.2,3.5,24.8,16.5,30,28]],[6,4,[17.6,27.5,8,19.3,3.8,12,5.5,2]],
  [6,5,[9,4,11,7]],
  [7,9,[44.8,12.6,47.6,18.8]],
  [7,5,[73.4,21.5,87.3,32,85.3,46.1,76.6,57.8,71.4,56]],
];

const starMass: Trace[] = [
  [4,3,[45.2,14.7,40,21.8,37.3,34.2,40,50.2]],[4,3,[40,21.8,43.9,30.7,46.6,41.3,47.9,52]],[4,3,[34.7,25.4,37.3,34.2,42,44]],
  [6,4,[30,28,27.2,30.5,17.6,27.5]],
];

const starCore: Trace[] = [[4,3,[41,26,42,44]]];
const smallStarCore: Trace[] = [[5,1,[34,32,35.5,44]]];

const darkBands: Trace[] = [
  [4,4,[35,53.6,28.4,54.6,17.6,61.7]],[4,5,[27.7,60.3,19.7,61.7,12,68]],[4,6,[7.7,81,10,88,15,94]],[4,6,[43.3,83,41.4,76]],
];

const grayRibbons: Trace[] = [
  [4,7,[0,27,17.4,37.3,32.5,48.5,43.4,60.7]],[4,7,[0,26.5,13,18,32.5,8.8,56.4,1.6]],
  [5,3,[7,43,21.2,49.2,35.7,51.8,47.6,50.2,57.3,42,66.9,23.8,81.8,.4]],[5,3,[35.7,51.8,57.3,58.3,74,70.7,88.4,87,97.7,99.6]],[5,3,[52,47,62,36,72,18]],[5,3,[0,34,1.9,39,6.7,43.4]],[5,3,[50,56,68,66,84,84]],
  [5,7,[0,20.2,13,17.7,30.4,9.6,52,3.5,73.8,.4]],[5,7,[56.4,52.3,82.4,66.6,100,80.9]],[5,7,[71.6,82.5,84.6,88,99.8,96]],
  [5,8,[24,86,30,92,41,94.3,46,95]],[5,8,[60,2,80,2.6]],[5,2,[60.3,4.5,78.7,1.8,90,1]],[5,2,[76,93,84,97,92,95]],
  [5,9,[.7,20.8,3.9,13.6,12.6,7.5,25.6,3.5,43,.4]],[5,9,[.7,20.8,14.8,32,30,46.2,43,64.6,48.4,80.9]],
  [6,0,[8.7,22.8,.5,33.6]],[6,0,[.5,62,17.5,69.2,43.6,81.5,70,93.7,85.7,98.8]],
  [7,3,[42.3,6.9,66,19]],[7,3,[55.9,62,66.4,72,72,82]],[7,3,[80,90,90,84]],
  [7,5,[71,21,82,29,84,45,77,57]],
  [7,4,[16,38,20,43]],
];

const stippleBands: Trace[] = [
  [4,7,[56.4,1.6,78,0,97.6,3.7,99.8,11.8,86.8,19,63,24.4,43.4,26.7,23.9,27]],[4,7,[56.4,3,78,1.5,95,5,97,11,85,17.5,62,23,43,25,24,25.5]],[4,7,[43.4,60.7,51,75,54.2,85,51,95.3,39,99.4,28,95.3,21.7,83,21.3,69,30.4,51.5]],[4,7,[44.5,60,52.5,74,56,85,53,96,40,99,27,94,20,83,20,69,29,51]],[4,7,[42,62,49,76,52,85,49,94,38,98,29,93,23,83,23,70,32,53]],
  [5,9,[43,.4,73.8,1.4,95.4,7.5,99.8,13.6,90.8,19.8,69,22.8,40.8,20.8,16.9,13.6,0,3.5]],[5,9,[43,2,73,3,93,9,97,14,89,18,68,21,41,19,18,11.5,2,2]],[5,9,[44,4,72,5,91,10.5,95,14,88,16.5,67,19,42,17,20,10,4,1]],[5,9,[43,.2,74,0,97,5.5,100,14,92,21.5,70,24,40,22.5,15,15.5]],[5,9,[48.4,80.9,45.2,95,32,99.2,21.3,93,19,76.8,25.6,54.4,38.6,43.2]],[5,9,[50,81,47,96,33,100,20,94,17,77,24,53,37,42]],[5,9,[46.5,81,43.5,93,32,97,23,92,21,77,27,56,40,44.5]],[5,9,[23,38.5,41.6,38.5]],[5,9,[31,76.8,31,82]],
  [6,0,[1.3,31.6,.8,64]],[6,0,[4,27.5,2.9,62]],[6,0,[6.6,26.5,5.3,56]],[6,0,[9.8,23.4,8,45.8]],[6,0,[.4,34,.2,60]],[6,0,[2.5,30,1.9,62]],
];

const darkGrayBlobs: Trace[] = [
  [7,3,[80,25.3,76,35]],[7,3,[89,53.8,94.2,74,88.9,80.3]],[7,3,[29,3,38,5]],
];

// Wide ribbons of the loops in the last filled panels.
const ribbonTop76: Trace[] = [[7,6,[6.3,9,25,6.4,46.8,7.3,56.6,14.3]]];
const ribbonSide76: Trace[] = [[7,6,[56.6,14.3,72.4,28.5,82.3,42.7]]];
const ribbonBottom76: Trace[] = [[7,6,[82.3,42.7,78.4,47,60.6,42.7,44.8,35.5,21,28.5]]];
const ribbonLeft76: Trace[] = [[7,6,[21,28.5,11,19.7,6.3,9]]];
const ribbonTop77: Trace[] = [[7,7,[17,13,38.5,14.7,54.4,21.8]],[7,7,[24.6,27,37,33,51.6,38.8]]];
const ribbonLeft77: Trace[] = [[7,7,[17,13,19,20,24.6,27]]];
const ribbonSide77: Trace[] = [[7,7,[55,25,56.5,34]]];
const ribbonRing78: Trace[] = [[7,8,[29,15.8,37.7,14.7,47.6,22.3,45.6,26.4,33.7,21.5,29,15.8]]];

const traceGroups: { traces: Trace[]; color: string; width: number; dash?: number[]; curved?: boolean }[] = [
  { traces: speckleTraces, color: "#c4c4c4", width: 1, dash: [1, 9] },
  { traces: dottedTraces, color: "#b0b0b0", width: 1, dash: [1, 3], curved: true },
  { traces: denseDashes, color: "#ababab", width: 1.2, dash: [2, 4] },
  { traces: stippleBands, color: "#a0a0a0", width: 2.4, dash: [1, 2], curved: true },
  { traces: grayRibbons, color: "#a4a4a4", width: 2.6, curved: true },
  { traces: grayCurves, color: "#9c9c9c", width: 1.1, curved: true },
  { traces: angularTraces, color: "#a4a4a4", width: 1.1 },
  { traces: blackDash, color: "#000000", width: 1.4, dash: [3, 1] },
  { traces: darkGrayBlobs, color: "#5c5c5c", width: 7, curved: true },
  { traces: blackThin, color: "#000000", width: 1.3, curved: true },
  { traces: blackMedium, color: "#000000", width: 2.8, curved: true },
  { traces: blackHeavy, color: "#000000", width: 4.4, curved: true },
  { traces: starMass, color: "#0a0a0a", width: 7, curved: true },
  { traces: starCore, color: "#111111", width: 16, curved: true },
  { traces: smallStarCore, color: "#111111", width: 8, curved: true },
  { traces: darkBands, color: "#1a1a1a", width: 6, curved: true },
  { traces: ribbonTop76, color: "#262626", width: 16, curved: true },
  { traces: ribbonSide76, color: "#2e2e2e", width: 12, curved: true },
  { traces: ribbonBottom76, color: "#0a0a0a", width: 10, curved: true },
  { traces: ribbonLeft76, color: "#0a0a0a", width: 6, curved: true },
  { traces: ribbonTop77, color: "#111111", width: 14, curved: true },
  { traces: ribbonLeft77, color: "#111111", width: 10, curved: true },
  { traces: ribbonSide77, color: "#222222", width: 28, curved: true },
  { traces: ribbonRing78, color: "#000000", width: 10, curved: true },
];

function toPoints(row: number, col: number, flat: number[]) {
  const data: { x: number; y: number }[] = [];
  for (let i = 0; i + 1 < flat.length; i += 2) {
    data.push({ x: col * 100 + flat[i], y: row * 100 + flat[i + 1] });
  }
  return data;
}

function buildDatasets() {
  const sets: any[] = [];
  for (const [row, col, flat] of [[3, 5, speckPanelA], [4, 2, speckPanelB]] as Trace[]) {
    sets.push({ data: toPoints(row, col, flat), showLine: false, pointRadius: 0.8, pointStyle: "rect", pointBorderWidth: 0, backgroundColor: "#b4b4b4" });
  }
  for (const group of traceGroups) {
    for (const [row, col, flat] of group.traces) {
      sets.push({
        data: toPoints(row, col, flat),
        showLine: true,
        pointRadius: 0,
        borderColor: group.color,
        borderWidth: group.width,
        borderDash: group.dash ?? [],
        borderCapStyle: group.dash ? "butt" : "round",
        borderJoinStyle: "round",
        tension: group.curved ? 0.38 : 0,
        fill: false,
      });
    }
  }
  return sets;
}

const edgeLine = (last: number) => (c: any) => (c.tick && (c.tick.value === 0 || c.tick.value === last) ? 2.6 : 1.6);

export default function App() {
  const ref = useRef<HTMLCanvasElement>(null);
  useEffect(() => {
    const chart = new Chart(ref.current!, {
      type: "scatter",
      data: { datasets: buildDatasets() },
      options: {
        responsive: false,
        animation: false,
        events: [],
        layout: { padding: 0 },
        plugins: {
          legend: { display: false },
          tooltip: { enabled: false },
          title: {
            display: true,
            text: titleText,
            color: "#000",
            font: { family: "'Liberation Serif'", size: 68, weight: "normal", lineHeight: 1 },
            padding: { top: 2, bottom: 10 },
          },
          subtitle: {
            display: true,
            position: "bottom",
            text: captionText,
            color: "#000",
            font: { family: "'Liberation Serif'", size: 47, weight: "normal", lineHeight: 1 },
            padding: { top: 22, bottom: 31 },
          },
        },
        scales: {
          x: {
            type: "linear",
            min: 0,
            max: panelColumns * 100,
            ticks: { display: false, stepSize: 100 },
            border: { display: true, color: "#000", width: 2.6 },
            grid: { color: "#000", drawTicks: false, lineWidth: edgeLine(panelColumns * 100) },
          },
          y: {
            type: "linear",
            min: 0,
            max: panelRows * 100,
            reverse: true,
            position: "left",
            ticks: { display: false, stepSize: 100 },
            border: { display: true, color: "#000", width: 2.6 },
            grid: { color: "#000", drawTicks: false, lineWidth: edgeLine(panelRows * 100) },
            afterFit: (s: any) => { s.width = 24.5; },
          },
          rightGutter: {
            type: "linear",
            position: "right",
            min: 0,
            max: 1,
            ticks: { display: false },
            border: { display: false },
            grid: { display: false, drawTicks: false },
            afterFit: (s: any) => { s.width = 41.5; },
          },
        },
      } as any,
    });
    return () => chart.destroy();
  }, []);
  return (
    <div style={{ position: "absolute", left: 0, top: 0, width: 2701, height: 2060, overflow: "hidden", background: "#fff" }}>
      <canvas ref={ref} width={2718} height={2060} style={{ display: "block" }} />
      <div style={{ position: "absolute", left: 0, top: 0, width: 2701, height: 2060, boxSizing: "border-box", borderTop: "2px solid #000", borderBottom: "1px solid #000", borderRight: "1px solid #000", pointerEvents: "none" }} />
    </div>
  );
}
